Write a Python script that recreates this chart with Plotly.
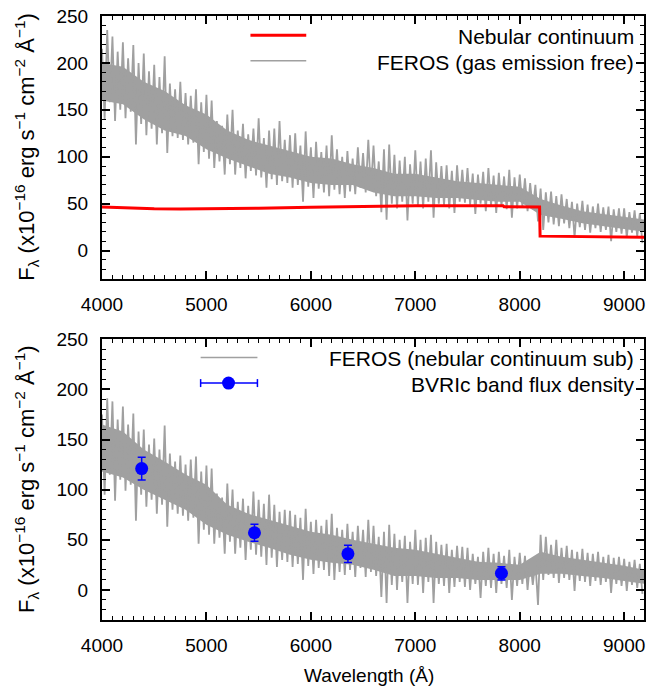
import numpy as np
import plotly.graph_objects as go

# ---------------- data ----------------
# FEROS spectrum peaks ("hi") and troughs ("lo") sampled every 50 A from 4000 A
wl_start, wl_step = 4000, 50

feros_gasfree_hi = [
    215, 235, 228, 212, 222, 205, 219, 200, 210, 191, 198, 185, 207, 178, 172, 180,
    168, 165, 172, 158, 166, 160, 138, 133, 145, 150, 128, 135, 124, 130, 141, 120,
    128, 130, 138, 118, 123, 125, 112, 127, 110, 116, 105, 112, 123, 108, 100, 106,
    98, 110, 104, 118, 112, 95, 108, 113, 102, 96, 100, 92, 107, 95, 98, 107,
    94, 90, 91, 85, 91, 86, 88, 82, 81, 84, 88, 80, 83, 79, 86, 78,
    81, 77, 72, 70, 66, 62, 63, 58, 60, 55, 52, 50, 53, 49, 47, 50,
    46, 47, 44, 45, 45, 41, 43, 40]
feros_gasfree_lo = [
    140, 158, 138, 150, 141, 148, 113, 135, 123, 130, 113, 125, 104, 122, 120, 118,
    113, 115, 92, 105, 98, 88, 95, 81, 92, 81, 88, 77, 85, 80, 78, 67,
    76, 70, 74, 72, 67, 70, 52, 68, 56, 66, 62, 58, 65, 60, 56, 63,
    60, 67, 62, 64, 58, 41, 33, 50, 45, 52, 32, 50, 48, 45, 52, 35,
    50, 48, 45, 40, 52, 51, 49, 39, 50, 42, 48, 40, 47, 44, 35, 45,
    47, 42, 44, 31, 22, 30, 28, 26, 29, 24, 14, 25, 22, 19, 24, 20,
    22, 10, 20, 18, 14, 19, 15, 8]

feros_nebsub_hi = [
    175, 191, 188, 170, 183, 165, 176, 158, 160, 145, 151, 140, 164, 136, 128, 134,
    125, 130, 133, 118, 124, 121, 96, 92, 106, 100, 88, 91, 84, 98, 90, 86,
    95, 85, 78, 80, 79, 75, 72, 81, 68, 70, 64, 70, 76, 62, 60, 66,
    58, 64, 60, 70, 64, 53, 58, 65, 56, 50, 54, 48, 60, 50, 52, 55,
    48, 45, 46, 40, 44, 43, 42, 36, 33, 38, 42, 36, 38, 34, 40, 33,
    37, 34, 30, 28, 55, 53, 45, 50, 42, 44, 40, 38, 41, 37, 36, 38,
    33, 35, 32, 33, 31, 28, 30, 26]
feros_nebsub_lo = [
    95, 115, 89, 110, 99, 105, 69, 95, 83, 90, 76, 85, 63, 80, 76, 74,
    69, 72, 46, 60, 55, 46, 52, 36, 48, 36, 42, 30, 40, 35, 33, 25,
    32, 23, 30, 28, 23, 26, 10, 24, 16, 22, 20, 14, 10, 18, 15, 20,
    13, 22, 13, 18, 14, -7, -13, 5, 0, 8, -13, 6, 5, -3, 8, -13,
    6, 4, -3, 3, 8, 3, 0, 6, -8, 4, 2, -3, 6, 2, -10, 4,
    6, 0, 5, -15, 10, 15, 12, 7, 12, 10, -1, 9, 8, 4, 9, 5,
    8, -3, 6, 4, -1, 5, 2, -4]

# dense core of the spectrum (where most pixels are grey), every 200 A from 4000 A
core_step = 200
gasfree_core_hi = [200, 196, 180, 170, 155, 145, 128, 118, 112, 106, 100, 98, 92, 88,
                   82, 82, 78, 74, 72, 70, 68, 55, 48, 42, 39, 36, 33]
gasfree_core_lo = [160, 156, 140, 128, 122, 108, 98, 90, 82, 78, 72, 70, 70, 62,
                   58, 58, 56, 56, 54, 52, 52, 38, 34, 29, 26, 23, 20]
nebsub_core_hi = [165, 158, 140, 128, 115, 105, 85, 76, 70, 64, 58, 55, 50, 46,
                  42, 40, 36, 32, 28, 27, 25, 38, 33, 30, 27, 24, 20]
nebsub_core_lo = [118, 112, 100, 90, 80, 65, 55, 48, 42, 35, 30, 27, 25, 20,
                  14, 14, 12, 12, 10, 10, 10, 16, 16, 14, 12, 9, 6]

# Nebular continuum model
neb_wl = [4000, 4250, 4500, 4750, 5000, 5500, 6000, 6500, 7000, 7500, 7840, 7850, 8190, 8195, 8500, 9000, 9200]
neb_flux = [46.4, 45.3, 44.6, 44.4, 44.5, 45.2, 46.3, 47.2, 47.8, 47.9, 47.9, 46.8, 46.4, 15.4, 15.1, 14.6, 14.3]

# BVRIc band flux densities
band_wl = [4380, 5460, 6355, 7825]
band_flux = [121, 57, 36, 16.6]
band_err = [11.3, 8.5, 8.6, 6.6]

legend_top = ["Nebular continuum", "FEROS (gas emission free)"]
legend_bot = ["FEROS (nebular continuum sub)", "BVRIc band flux density"]
ytitle = "F<sub>λ</sub> (x10<sup>−16</sup> erg s<sup>−1</sup> cm<sup>−2</sup> Å<sup>−1</sup>)"
xtitle = "Wavelength (Å)"

# ---------------- helpers ----------------
W, H = 652, 692
ML, MR, MT, MB = 102, 6, 14, 72
PW, PH = W - ML - MR, H - MT - MB


def px(x):
    return (x - ML) / PW


def py(y):
    return (H - MB - y) / PH


def zigzag(hi, lo):
    assert len(hi) == len(lo)
    xs, ys = [], []
    for i, (h, l) in enumerate(zip(hi, lo)):
        w = wl_start + i * wl_step
        xs += [w, w + wl_step / 2]
        ys += [h, l]
    return xs, ys


def core_polygon(hi, lo):
    assert len(hi) == len(lo)
    wl = [wl_start + i * core_step for i in range(len(hi))]
    xs = wl + wl[::-1] + [wl[0]]
    ys = list(hi) + list(lo)[::-1] + [hi[0]]
    return xs, ys


GRAY = "#a0a0a0"
FONT = "Liberation Sans, Arial, sans-serif"
FS = 19
FS_KEY = 21

fig = go.Figure()


def add_spectrum(hi, lo, chi, clo, xa, ya):
    cx, cy = core_polygon(chi, clo)
    fig.add_trace(go.Scatter(x=cx, y=cy, mode="lines", fill="toself", fillcolor=GRAY,
                             line=dict(color=GRAY, width=0), xaxis=xa, yaxis=ya,
                             showlegend=False, hoverinfo="skip"))
    zx, zy = zigzag(hi, lo)
    fig.add_trace(go.Scatter(x=zx, y=zy, mode="lines", line=dict(color=GRAY, width=1.8),
                             xaxis=xa, yaxis=ya, showlegend=False, hoverinfo="skip"))


add_spectrum(feros_gasfree_hi, feros_gasfree_lo, gasfree_core_hi, gasfree_core_lo, "x", "y")
fig.add_trace(go.Scatter(x=neb_wl, y=neb_flux, mode="lines", line=dict(color="#ff0000", width=3),
                         xaxis="x", yaxis="y", showlegend=False))

add_spectrum(feros_nebsub_hi, feros_nebsub_lo, nebsub_core_hi, nebsub_core_lo, "x2", "y2")
fig.add_trace(go.Scatter(x=band_wl, y=band_flux, mode="markers",
                         marker=dict(color="#0000ff", size=13),
                         error_y=dict(type="data", array=band_err, color="#0000ff", thickness=1.5, width=4),
                         xaxis="x2", yaxis="y2", showlegend=False))

top_dom = [py(277.6), 1.0]
bot_dom = [0.0, py(338.3)]

axis_common = dict(
    showline=True, linecolor="black", linewidth=2, mirror="allticks",
    ticks="inside", ticklen=8, tickwidth=1.5, tickcolor="black",
    showgrid=False, zeroline=False,
    tickfont=dict(family=FONT, size=FS, color="black"),
)

xax = dict(axis_common, range=[4000, 9190], tick0=4000, dtick=1000,
           minor=dict(dtick=100, ticks="inside", ticklen=4, tickwidth=1, tickcolor="black", showgrid=False),
           ticklabelstandoff=7)
yax = dict(axis_common, range=[-30, 250], tick0=0, dtick=50,
           minor=dict(dtick=10, ticks="inside", ticklen=4, tickwidth=1, tickcolor="black", showgrid=False),
           ticklabelstandoff=8)

fig.update_layout(
    width=W, height=H,
    margin=dict(l=ML, r=MR, t=MT, b=MB),
    paper_bgcolor="white", plot_bgcolor="white",
    font=dict(family=FONT, size=FS, color="black"),
    showlegend=False,
    xaxis=dict(xax, domain=[0, 1], anchor="y"),
    yaxis=dict(yax, domain=top_dom, anchor="x"),
    xaxis2=dict(xax, domain=[0, 1], anchor="y2"),
    yaxis2=dict(yax, domain=bot_dom, anchor="x2"),
)

ann = []
# y titles
for dom in (top_dom, bot_dom):
    ann.append(dict(x=px(26), y=(dom[0] + dom[1]) / 2, xref="paper", yref="paper",
                    text=ytitle, textangle=-90, showarrow=False, xanchor="center", yanchor="middle",
                    font=dict(family=FONT, size=22)))
# x title
ann.append(dict(x=px(370), y=py(676), xref="paper", yref="paper", text=xtitle, showarrow=False,
                xanchor="center", yanchor="middle", font=dict(family=FONT, size=FS)))
# legend texts
for txt, yy in zip(legend_top, (35, 61)):
    ann.append(dict(x=px(638), y=py(yy), xref="paper", yref="paper", text=txt, showarrow=False,
                    xanchor="right", yanchor="middle", font=dict(family=FONT, size=FS_KEY)))
for txt, yy in zip(legend_bot, (358, 384)):
    ann.append(dict(x=px(638), y=py(yy), xref="paper", yref="paper", text=txt, showarrow=False,
                    xanchor="right", yanchor="middle", font=dict(family=FONT, size=FS_KEY)))
fig.update_layout(annotations=ann)

shapes = [
    dict(type="line", xref="paper", yref="paper", x0=px(251), x1=px(307), y0=py(33.3), y1=py(33.3),
         line=dict(color="#ff0000", width=3)),
    dict(type="line", xref="paper", yref="paper", x0=px(251), x1=px(307), y0=py(59), y1=py(59),
         line=dict(color=GRAY, width=1.5)),
    dict(type="line", xref="paper", yref="paper", x0=px(201), x1=px(258), y0=py(356.7), y1=py(356.7),
         line=dict(color=GRAY, width=1.5)),
    # legend error bar sample
    dict(type="line", xref="paper", yref="paper", x0=px(201), x1=px(258), y0=py(382.3), y1=py(382.3),
         line=dict(color="#0000ff", width=1.5)),
    dict(type="line", xref="paper", yref="paper", x0=px(201), x1=px(201), y0=py(378.3), y1=py(386.3),
         line=dict(color="#0000ff", width=1.5)),
    dict(type="line", xref="paper", yref="paper", x0=px(258), x1=px(258), y0=py(378.3), y1=py(386.3),
         line=dict(color="#0000ff", width=1.5)),
    dict(type="circle", xref="paper", yref="paper", x0=px(229 - 6.5), x1=px(229 + 6.5),
         y0=py(382.3 + 6.5), y1=py(382.3 - 6.5), fillcolor="#0000ff", line=dict(color="#0000ff", width=0)),
]
fig.update_layout(shapes=shapes)

fig.write_html("out.html", config={"displayModeBar": False},
               post_script="document.body.style.margin='0';document.body.style.padding='0';")
